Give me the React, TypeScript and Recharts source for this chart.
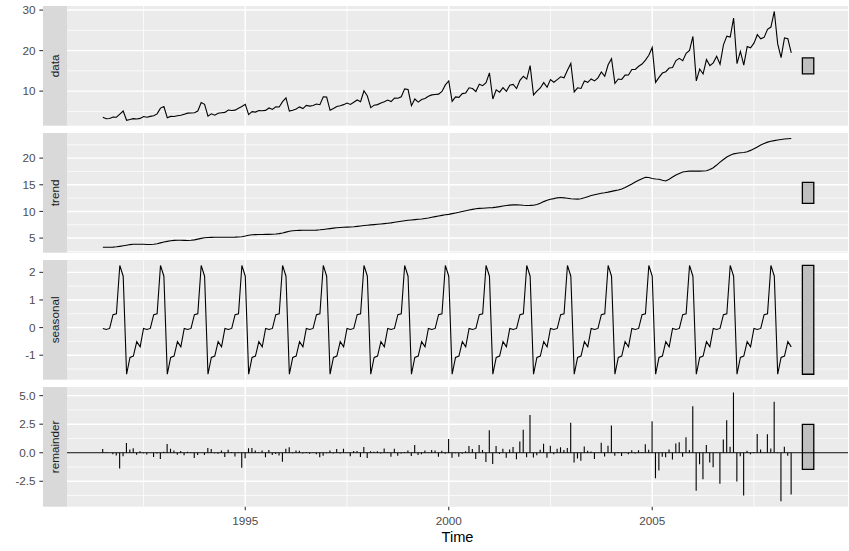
import React from 'react';
import {
  ComposedChart,
  Line,
  Bar,
  XAxis,
  YAxis,
  CartesianGrid,
  ReferenceArea,
  ReferenceLine,
} from 'recharts';

// ---------- data (monthly, Jul 1991 – Jun 2008) ----------
const startYear = 1991;
const startMonthIndex = 6; // July (0-based)

const dataValues = [
  3.527, 3.181, 3.252, 3.611, 3.566, 4.306,
  5.088, 2.815, 2.986, 3.205, 3.128, 3.271, 3.738, 3.559, 3.777, 3.924, 4.387, 5.811,
  6.192, 3.451, 3.772, 3.734, 3.905, 4.050, 4.316, 4.562, 4.609, 4.668, 5.094, 7.180,
  6.731, 3.841, 4.394, 4.075, 4.541, 4.646, 4.753, 5.351, 5.204, 5.302, 5.774, 6.205,
  6.749, 4.216, 4.949, 4.823, 5.195, 5.171, 5.257, 5.855, 5.491, 6.115, 6.088, 7.417,
  8.329, 5.070, 5.263, 5.597, 6.110, 5.689, 6.487, 6.301, 6.467, 6.829, 6.650, 8.607,
  8.524, 5.277, 5.715, 6.215, 6.412, 6.667, 7.050, 6.704, 7.251, 7.819, 7.398, 10.096,
  8.798, 5.918, 6.535, 6.675, 7.065, 7.384, 7.813, 7.432, 8.275, 8.260, 8.596, 10.558,
  10.391, 6.421, 8.063, 7.298, 7.937, 8.166, 8.717, 9.071, 9.177, 9.252, 9.933, 11.533,
  12.511, 7.457, 8.591, 8.474, 9.387, 9.560, 10.834, 10.644, 9.908, 11.710, 11.340, 12.079,
  14.498, 8.049, 10.313, 9.753, 10.850, 9.962, 11.444, 11.659, 10.647, 12.652, 13.674, 12.966,
  16.300, 9.053, 10.002, 10.789, 12.107, 10.954, 12.845, 12.197, 12.855, 13.542, 13.288, 15.135,
  16.828, 9.800, 10.817, 10.654, 12.512, 12.161, 12.998, 12.517, 13.269, 14.734, 13.669, 16.504,
  18.004, 11.938, 12.998, 12.883, 13.943, 13.989, 15.339, 15.371, 16.142, 16.686, 17.637, 18.869,
  20.779, 12.155, 13.402, 14.459, 14.795, 15.705, 15.830, 17.555, 18.101, 17.497, 19.347, 20.031,
  23.487, 12.537, 15.467, 14.234, 17.783, 16.292, 16.980, 18.612, 16.623, 21.430, 23.576, 23.334,
  28.038, 16.764, 19.793, 16.427, 21.001, 20.681, 21.835, 23.930, 22.930, 23.263, 25.250, 25.806,
  29.665, 21.654, 18.265, 23.108, 22.913, 19.432,
];

const trendValues = [
  3.28, 3.28, 3.29, 3.31, 3.36, 3.45,
  3.55, 3.66, 3.78, 3.84, 3.84, 3.85, 3.83, 3.80, 3.80, 3.83, 3.95, 4.10,
  4.25, 4.38, 4.50, 4.57, 4.60, 4.60, 4.57, 4.55, 4.59, 4.67, 4.80, 4.94,
  5.06, 5.12, 5.14, 5.15, 5.15, 5.15, 5.15, 5.15, 5.16, 5.17, 5.20, 5.26,
  5.38, 5.52, 5.62, 5.65, 5.67, 5.68, 5.69, 5.70, 5.72, 5.76, 5.83, 5.95,
  6.12, 6.28, 6.38, 6.43, 6.45, 6.46, 6.46, 6.46, 6.47, 6.50, 6.55, 6.62,
  6.70, 6.78, 6.86, 6.93, 6.98, 7.02, 7.05, 7.08, 7.13, 7.20, 7.28, 7.35,
  7.41, 7.47, 7.53, 7.59, 7.65, 7.71, 7.78, 7.86, 7.96, 8.06, 8.16, 8.25,
  8.33, 8.40, 8.46, 8.52, 8.59, 8.68, 8.78, 8.90, 9.02, 9.14, 9.26, 9.38,
  9.45, 9.58, 9.72, 9.85, 10.00, 10.14, 10.27, 10.39, 10.50, 10.57, 10.60, 10.64,
  10.68, 10.72, 10.80, 10.90, 11.02, 11.10, 11.18, 11.22, 11.25, 11.20, 11.15, 11.12,
  11.13, 11.16, 11.30, 11.55, 11.84, 12.08, 12.28, 12.40, 12.55, 12.60, 12.55, 12.48,
  12.38, 12.32, 12.31, 12.38, 12.55, 12.76, 12.97, 13.14, 13.28, 13.40, 13.50, 13.62,
  13.76, 13.90, 14.02, 14.20, 14.48, 14.82, 15.15, 15.50, 15.85, 16.15, 16.40, 16.35,
  16.16, 16.08, 16.04, 15.85, 15.70, 16.05, 16.45, 16.82, 17.12, 17.38, 17.50, 17.55,
  17.56, 17.56, 17.56, 17.58, 17.62, 17.85, 18.20, 18.70, 19.25, 19.75, 20.20, 20.55,
  20.80, 20.92, 21.00, 21.06, 21.20, 21.45, 21.75, 22.10, 22.45, 22.75, 23.00, 23.15,
  23.28, 23.40, 23.50, 23.58, 23.64, 23.69,
];

const seasonalValues = [
  -0.03, -0.07, -0.03, 0.47, 0.50, 2.25,
  1.86, -1.69, -1.08, -1.03, -0.51, -0.70, -0.03, -0.07, -0.03, 0.47, 0.50, 2.25,
  1.86, -1.69, -1.08, -1.03, -0.51, -0.70, -0.03, -0.07, -0.03, 0.47, 0.50, 2.25,
  1.86, -1.69, -1.08, -1.03, -0.51, -0.70, -0.03, -0.07, -0.03, 0.47, 0.50, 2.25,
  1.86, -1.69, -1.08, -1.03, -0.51, -0.70, -0.03, -0.07, -0.03, 0.47, 0.50, 2.25,
  1.86, -1.69, -1.08, -1.03, -0.51, -0.70, -0.03, -0.07, -0.03, 0.47, 0.50, 2.25,
  1.86, -1.69, -1.08, -1.03, -0.51, -0.70, -0.03, -0.07, -0.03, 0.47, 0.50, 2.25,
  1.86, -1.69, -1.08, -1.03, -0.51, -0.70, -0.03, -0.07, -0.03, 0.47, 0.50, 2.25,
  1.86, -1.69, -1.08, -1.03, -0.51, -0.70, -0.03, -0.07, -0.03, 0.47, 0.50, 2.25,
  1.86, -1.69, -1.08, -1.03, -0.51, -0.70, -0.03, -0.07, -0.03, 0.47, 0.50, 2.25,
  1.86, -1.69, -1.08, -1.03, -0.51, -0.70, -0.03, -0.07, -0.03, 0.47, 0.50, 2.25,
  1.86, -1.69, -1.08, -1.03, -0.51, -0.70, -0.03, -0.07, -0.03, 0.47, 0.50, 2.25,
  1.86, -1.69, -1.08, -1.03, -0.51, -0.70, -0.03, -0.07, -0.03, 0.47, 0.50, 2.25,
  1.86, -1.69, -1.08, -1.03, -0.51, -0.70, -0.03, -0.07, -0.03, 0.47, 0.50, 2.25,
  1.86, -1.69, -1.08, -1.03, -0.51, -0.70, -0.03, -0.07, -0.03, 0.47, 0.50, 2.25,
  1.86, -1.69, -1.08, -1.03, -0.51, -0.70, -0.03, -0.07, -0.03, 0.47, 0.50, 2.25,
  1.86, -1.69, -1.08, -1.03, -0.51, -0.70, -0.03, -0.07, -0.03, 0.47, 0.50, 2.25,
  1.86, -1.69, -1.08, -1.03, -0.51, -0.70,
];

const remainderValues = [
  0.33, 0.05, -0.01, -0.14, -0.25, -1.39,
  -0.30, 0.86, 0.29, 0.40, -0.18, 0.12, -0.05, -0.15, 0.01, -0.37, -0.06, -0.54,
  0.08, 0.76, 0.35, 0.19, -0.18, 0.15, -0.22, 0.08, 0.05, -0.47, -0.21, -0.01,
  -0.19, 0.41, 0.33, -0.04, -0.10, 0.20, -0.37, 0.27, 0.07, -0.34, 0.07, -1.31,
  -0.49, 0.39, 0.41, 0.20, 0.04, 0.19, -0.40, 0.23, -0.20, -0.11, -0.24, -0.78,
  0.35, 0.48, -0.04, 0.20, 0.17, -0.07, 0.06, -0.09, 0.03, -0.14, -0.40, -0.26,
  -0.04, 0.19, -0.06, 0.32, -0.06, 0.35, 0.03, -0.31, 0.15, 0.15, -0.38, 0.50,
  -0.47, 0.14, 0.09, 0.12, -0.07, 0.37, 0.06, -0.36, 0.35, -0.27, -0.06, 0.06,
  0.20, -0.29, 0.68, -0.19, -0.14, 0.19, -0.03, 0.24, 0.19, -0.36, 0.17, -0.10,
  1.20, -0.43, -0.05, -0.35, -0.10, 0.12, 0.59, 0.32, -0.56, 0.67, 0.24, -0.81,
  1.96, -0.98, 0.59, -0.12, 0.34, -0.44, 0.29, 0.51, -0.57, 0.98, 2.02, -0.40,
  3.31, -0.42, -0.22, 0.27, 0.78, -0.43, 0.60, -0.13, 0.34, 0.47, 0.24, 0.41,
  2.63, -0.86, -0.50, -0.70, 0.55, 0.18, 0.10, -0.55, 0.02, 0.87, -0.34, 0.61,
  2.38, -0.27, 0.06, -0.29, -0.03, -0.13, 0.22, -0.06, 0.22, 0.07, 0.74, 0.27,
  2.76, -2.23, -1.56, -0.36, -0.39, 0.28, -0.59, 0.80, 0.92, -0.35, 1.35, 0.23,
  4.07, -3.33, -1.01, -2.32, 0.67, -0.86, -1.28, -0.02, -2.72, 1.15, 2.84, 0.53,
  5.28, -2.52, -0.30, -3.74, 0.18, -0.13, 0.05, 1.65, 0.28, 0.02, 1.62, 0.36,
  4.47, -0.05, -4.25, 0.52, -0.27, -3.65,
];

// ---------- axes / labels ----------
const panelLabels = ['data', 'trend', 'seasonal', 'remainder'];
const xMajorTicks = [1995, 2000, 2005];
const xMajorLabels = ['1995', '2000', '2005'];
const xMinorTicks = [1992.5, 1997.5, 2002.5, 2007.5];
const xDomain: [number, number] = [1990.62, 2009.81];
const scaleBarX = [2008.69, 2008.97];

const dataTicks = [10, 20, 30];
const dataTickLabels = ['10', '20', '30'];
const dataMinor = [5, 15, 25];
const trendTicks = [5, 10, 15, 20];
const trendTickLabels = ['5', '10', '15', '20'];
const trendMinor = [2.5, 7.5, 12.5, 17.5, 22.5];
const seasonalTicks = [-1, 0, 1, 2];
const seasonalTickLabels = ['-1', '0', '1', '2'];
const seasonalMinor = [-1.5, -0.5, 0.5, 1.5];
const remainderTicks = [-2.5, 0, 2.5, 5];
const remainderTickLabels = ['-2.5', '0.0', '2.5', '5.0'];
const remainderMinor = [-3.75, -1.25, 1.25, 3.75];

// ---------- layout ----------
const FONT = '"Liberation Sans", Arial, Helvetica, sans-serif';
const W = 849;
const H = 551;
const PLOT_LEFT = 67;
const PLOT_RIGHT = 848;
const STRIP_LEFT = 43;
const PANEL_TOPS = [6, 133, 260, 387];
const PANEL_H = 119.7;
const PAD = 6;

const rows = dataValues.map((v, i) => ({
  t: startYear + (startMonthIndex + i) / 12,
  data: v,
  trend: trendValues[i],
  seasonal: seasonalValues[i],
  remainder: remainderValues[i],
}));

const rangeOf = (vals: number[]) => [Math.min(...vals), Math.max(...vals)];
const expanded = (vals: number[]): [number, number] => {
  const [lo, hi] = rangeOf(vals);
  const r = hi - lo;
  return [lo - 0.05 * r, hi + 0.05 * r];
};

const specs = [
  { key: 'data', values: dataValues, ticks: dataTicks, labels: dataTickLabels, minor: dataMinor },
  { key: 'trend', values: trendValues, ticks: trendTicks, labels: trendTickLabels, minor: trendMinor },
  { key: 'seasonal', values: seasonalValues, ticks: seasonalTicks, labels: seasonalTickLabels, minor: seasonalMinor },
  { key: 'remainder', values: remainderValues, ticks: remainderTicks, labels: remainderTickLabels, minor: remainderMinor },
];

// shortest panel range -> common scale-bar length
const barLength = Math.min(
  ...specs.map((s) => {
    const [lo, hi] = rangeOf(s.values);
    return hi - lo;
  })
);

const makeYTick = (ticks: number[], labels: string[]) => (props: any) => {
  const { y, payload } = props;
  const idx = ticks.indexOf(payload.value);
  return (
    <g>
      <line x1={39.3} x2={STRIP_LEFT} y1={y} y2={y} stroke="#333333" strokeWidth={1.07} />
      <text
        x={35.6}
        y={y + 4.1}
        textAnchor="end"
        fill="#4D4D4D"
        fontSize={11.73}
        fontFamily={FONT}
      >
        {idx >= 0 ? labels[idx] : String(payload.value)}
      </text>
    </g>
  );
};

const XTick = (props: any) => {
  const { x, payload } = props;
  const idx = xMajorTicks.indexOf(payload.value);
  const base = PAD + PANEL_H;
  return (
    <g>
      <line x1={x} x2={x} y1={base} y2={base + 3.67} stroke="#333333" strokeWidth={1.07} />
      <text x={x} y={base + 18.3} textAnchor="middle" fill="#4D4D4D" fontSize={11.73} fontFamily={FONT}>
        {idx >= 0 ? xMajorLabels[idx] : String(payload.value)}
      </text>
    </g>
  );
};

const RemainderStick = (props: any) => {
  const { x, y, width, height } = props;
  if (x == null || y == null) return null;
  const cx = x + (width || 0) / 2;
  return <line x1={cx} x2={cx} y1={y} y2={y + (height || 0)} stroke="#000000" strokeWidth={1.1} />;
};

function Panel({ index }: { index: number }) {
  const spec = specs[index];
  const isLast = index === 3;
  const dom = expanded(spec.values);
  const [lo, hi] = rangeOf(spec.values);
  const mid = (lo + hi) / 2;
  const chartH = PAD + PANEL_H + (isLast ? 40 : PAD);
  return (
    <div style={{ position: 'absolute', left: 0, top: PANEL_TOPS[index] - PAD }}>
      <ComposedChart
        width={W}
        height={chartH}
        data={rows}
        margin={{ top: PAD, right: W - PLOT_RIGHT, bottom: isLast ? 10 : PAD, left: 0 }}
      >
        <CartesianGrid
          fill="#EBEBEB"
          stroke="#FFFFFF"
          strokeWidth={0.71}
          horizontalValues={spec.minor}
          verticalValues={xMinorTicks}
        />
        <CartesianGrid
          stroke="#FFFFFF"
          strokeWidth={1.42}
          horizontalValues={spec.ticks}
          verticalValues={xMajorTicks}
        />
        <XAxis
          type="number"
          dataKey="t"
          domain={xDomain}
          allowDataOverflow
          ticks={xMajorTicks}
          interval={0}
          hide={!isLast}
          height={30}
          axisLine={false}
          tickLine={false}
          tick={XTick}
        />
        <YAxis
          type="number"
          domain={dom}
          allowDataOverflow
          ticks={spec.ticks}
          interval={0}
          width={PLOT_LEFT}
          axisLine={false}
          tickLine={false}
          tick={makeYTick(spec.ticks, spec.labels)}
        />
        {isLast ? (
          <Bar
            dataKey="remainder"
            barSize={1.1}
            fill="#000000"
            isAnimationActive={false}
            shape={RemainderStick}
          />
        ) : (
          <Line
            type="linear"
            dataKey={spec.key}
            stroke="#000000"
            strokeWidth={1.1}
            dot={false}
            activeDot={false}
            isAnimationActive={false}
          />
        )}
        <ReferenceArea
          x1={scaleBarX[0]}
          x2={scaleBarX[1]}
          y1={mid - barLength / 2}
          y2={mid + barLength / 2}
          fill="#BFBFBF"
          fillOpacity={1}
          stroke="#000000"
          strokeWidth={1.3}
          ifOverflow="visible"
        />
        {isLast ? <ReferenceLine y={0} stroke="#000000" strokeWidth={1.2} /> : null}
      </ComposedChart>
    </div>
  );
}

export default function App() {
  return (
    <div style={{ position: 'absolute', left: 0, top: 0, width: W, height: H, background: '#FFFFFF', fontFamily: FONT }}>
      {specs.map((_, i) => (
        <Panel key={i} index={i} />
      ))}
      <svg width={W} height={H} style={{ position: 'absolute', left: 0, top: 0, pointerEvents: 'none' }}>
        {panelLabels.map((lab, i) => {
          const top = PANEL_TOPS[i];
          const cx = (STRIP_LEFT + PLOT_LEFT) / 2;
          const cy = top + PANEL_H / 2;
          return (
            <g key={lab}>
              <rect x={STRIP_LEFT} y={top} width={PLOT_LEFT - STRIP_LEFT} height={PANEL_H} fill="#D9D9D9" />
              <text
                x={cx}
                y={cy}
                transform={`rotate(-90 ${cx} ${cy})`}
                textAnchor="middle"
                dy="0.35em"
                fill="#1A1A1A"
                fontSize={11.73}
                fontFamily={FONT}
              >
                {lab}
              </text>
            </g>
          );
        })}
        <text
          x={(PLOT_LEFT + PLOT_RIGHT) / 2}
          y={542.3}
          textAnchor="middle"
          fill="#000000"
          fontSize={14.67}
          fontFamily={FONT}
        >
          Time
        </text>
      </svg>
    </div>
  );
}
